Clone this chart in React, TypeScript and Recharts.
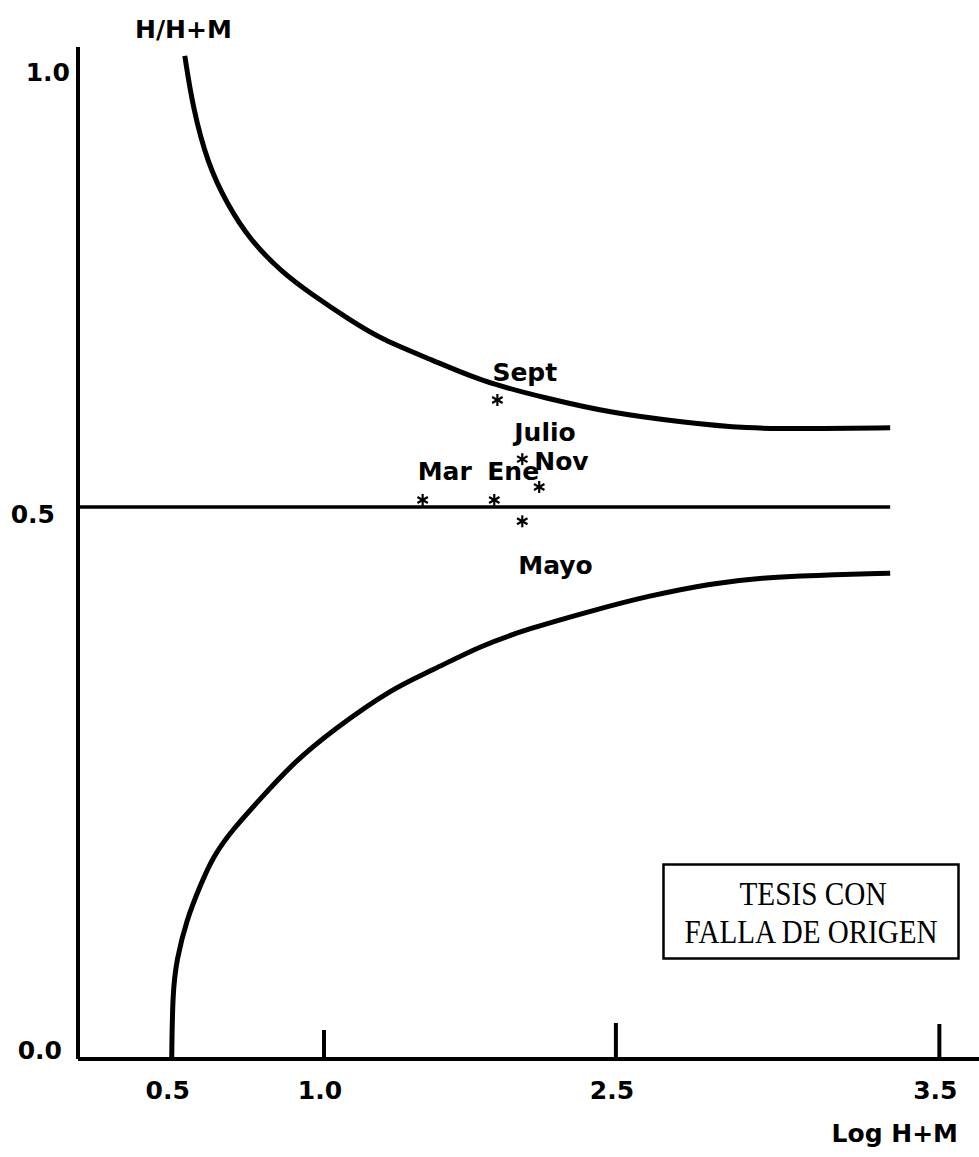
import { ComposedChart, Line, Scatter, XAxis, YAxis } from "recharts";

// limit curves (x = Log H+M, y = H/H+M)
const upperX = [0.543, 0.569, 0.618, 0.681, 0.757, 0.865, 0.954, 1.133, 1.302, 1.558, 1.814, 2.142, 2.479, 2.696, 2.904, 3.109, 3.348];
const upperY = [1.019, 0.96, 0.895, 0.849, 0.807, 0.769, 0.746, 0.715, 0.692, 0.669, 0.644, 0.625, 0.608, 0.598, 0.59, 0.59, 0.591];
const lowerX = [0.5, 0.503, 0.516, 0.549, 0.592, 0.635, 0.697, 0.789, 0.898, 1.046, 1.353, 1.558, 1.799, 2.055, 2.398, 2.593, 2.798, 2.953, 3.109, 3.348];
const lowerY = [0, 0.06, 0.09, 0.126, 0.156, 0.183, 0.207, 0.235, 0.268, 0.298, 0.336, 0.352, 0.374, 0.39, 0.407, 0.419, 0.431, 0.436, 0.438, 0.44];
const midX = [0.19, 3.348];
const midY = [0.5, 0.5];

// monthly samples
const months = ["Sept", "Julio", "Nov", "Mar", "Ene", "Mayo"];
const monthX = [1.891, 2.019, 2.106, 1.507, 1.875, 2.019];
const monthY = [0.623, 0.555, 0.523, 0.508, 0.508, 0.487];

const xTicks = [0.5, 1.0, 2.5, 3.5];
const xTickLabels = ["0.5", "1.0", "2.5", "3.5"];
const yTicks = [0.0, 0.5, 1.0];
const yTickLabels = ["0.0", "0.5", "1.0"];

// the hand-drawn axes are not evenly spaced: share of the axis length at each tick
const xTickShare = [0.104, 0.273, 0.597, 0.956];
const yTickShare = [0, 0.5455, 0.975];

const FONT = "'DejaVu Sans', sans-serif";

function warp(v: number, ticks: number[], shares: number[]) {
  let i = 0;
  while (i < ticks.length - 2 && v > ticks[i + 1]) i++;
  const t = (v - ticks[i]) / (ticks[i + 1] - ticks[i]);
  return shares[i] + t * (shares[i + 1] - shares[i]);
}
const wx = (v: number) => warp(v, xTicks, xTickShare);
const wy = (v: number) => warp(v, yTicks, yTickShare);

const toPoints = (xs: number[], ys: number[]) => xs.map((x, i) => ({ x: wx(x), y: wy(ys[i]) }));

const upperData = toPoints(upperX, upperY);
const lowerData = toPoints(lowerX, lowerY);
const midData = toPoints(midX, midY);
const monthData = months.map((name, i) => ({ name, x: wx(monthX[i]), y: wy(monthY[i]) }));

// label placement around each asterisk: [dx to text start, dy to text middle]
const labelOffset: Record<string, [number, number]> = {
  Sept: [-5, -28],
  Julio: [-8, -27],
  Nov: [-5, -25],
  Mar: [-5, -28],
  Ene: [-7, -28],
  Mayo: [-4, 44],
};

const xTickMark = [0, 29, 36, 35];
const yLabelShift: [number, number][] = [[-16, -9], [-23, 8], [-8, 0]];

function Star(props: any) {
  const { cx, cy, payload } = props;
  const [dx, dy] = labelOffset[payload.name];
  const r = 6;
  const s = { stroke: "#000", strokeWidth: 2.2 };
  return (
    <g>
      <line x1={cx} y1={cy - r} x2={cx} y2={cy + r} {...s} />
      <line x1={cx - r * 0.87} y1={cy - r * 0.5} x2={cx + r * 0.87} y2={cy + r * 0.5} {...s} />
      <line x1={cx - r * 0.87} y1={cy + r * 0.5} x2={cx + r * 0.87} y2={cy - r * 0.5} {...s} />
      <text x={cx + dx} y={cy + dy} dominantBaseline="central" fontFamily={FONT} fontWeight="bold" fontSize={25} fill="#000">
        {payload.name}
      </text>
    </g>
  );
}

function XTick(props: any) {
  const { x, y, index } = props;
  const len = xTickMark[index];
  return (
    <g>
      {len > 0 && <line x1={x} y1={y} x2={x} y2={y - len} stroke="#000" strokeWidth={4} />}
      <text x={x - 4} y={y + 40} textAnchor="middle" fontFamily={FONT} fontWeight="bold" fontSize={25} fill="#000">
        {xTickLabels[index]}
      </text>
    </g>
  );
}

function YTick(props: any) {
  const { x, y, index } = props;
  const [dx, dy] = yLabelShift[index];
  return (
    <text x={x + dx} y={y + dy} textAnchor="end" dominantBaseline="central" fontFamily={FONT} fontWeight="bold" fontSize={25} fill="#000">
      {yTickLabels[index]}
    </text>
  );
}

export default function App() {
  return (
    <div style={{ position: "absolute", left: 0, top: 0, width: 979, height: 1157, background: "#fff", overflow: "hidden" }}>
      <ComposedChart width={979} height={1157} margin={{ top: 47, right: 0, bottom: 38, left: 0 }}>
        <XAxis
          type="number"
          dataKey="x"
          domain={[0, 1]}
          allowDataOverflow
          ticks={xTicks.map(wx)}
          interval={0}
          height={60}
          tickSize={0}
          tickMargin={0}
          tickLine={false}
          axisLine={{ stroke: "#000", strokeWidth: 4 }}
          tick={<XTick />}
          label={{
            content: (p: any) => (
              <text
                x={p.viewBox.x + p.viewBox.width - 21}
                y={p.viewBox.y + p.viewBox.height + 23}
                textAnchor="end"
                fontFamily={FONT}
                fontWeight="bold"
                fontSize={25}
                fill="#000"
              >
                Log H+M
              </text>
            ),
          }}
        />
        <YAxis
          type="number"
          domain={[0, 1]}
          allowDataOverflow
          ticks={yTicks.map(wy)}
          interval={0}
          width={78}
          tickSize={0}
          tickMargin={0}
          tickLine={false}
          axisLine={{ stroke: "#000", strokeWidth: 4 }}
          tick={<YTick />}
          label={{
            content: (p: any) => (
              <text
                x={p.viewBox.x + p.viewBox.width + 57}
                y={p.viewBox.y - 9}
                fontFamily={FONT}
                fontWeight="bold"
                fontSize={25}
                fill="#000"
              >
                H/H+M
              </text>
            ),
          }}
        />
        <Line data={midData} dataKey="y" type="linear" stroke="#000" strokeWidth={3.5} dot={false} isAnimationActive={false} />
        <Line data={upperData} dataKey="y" type="basis" stroke="#000" strokeWidth={5} dot={false} isAnimationActive={false} />
        <Line data={lowerData} dataKey="y" type="basis" stroke="#000" strokeWidth={5} dot={false} isAnimationActive={false} />
        <Scatter data={monthData} dataKey="y" shape={<Star />} isAnimationActive={false} />
      </ComposedChart>
      <svg style={{ position: "absolute", left: 622, top: 863, overflow: "visible" }} width={350} height={98}>
        <rect x={41.5} y={1.5} width={295} height={94} fill="#fff" stroke="#000" strokeWidth={2.5} />
        <text x={191} y={42} textAnchor="middle" fontFamily="'Liberation Serif', serif" fontSize={34} textLength={147} lengthAdjust="spacingAndGlyphs" fill="#000">
          TESIS CON
        </text>
        <text x={189} y={80} textAnchor="middle" fontFamily="'Liberation Serif', serif" fontSize={34} textLength={253} lengthAdjust="spacingAndGlyphs" fill="#000">
          FALLA DE ORIGEN
        </text>
      </svg>
    </div>
  );
}
